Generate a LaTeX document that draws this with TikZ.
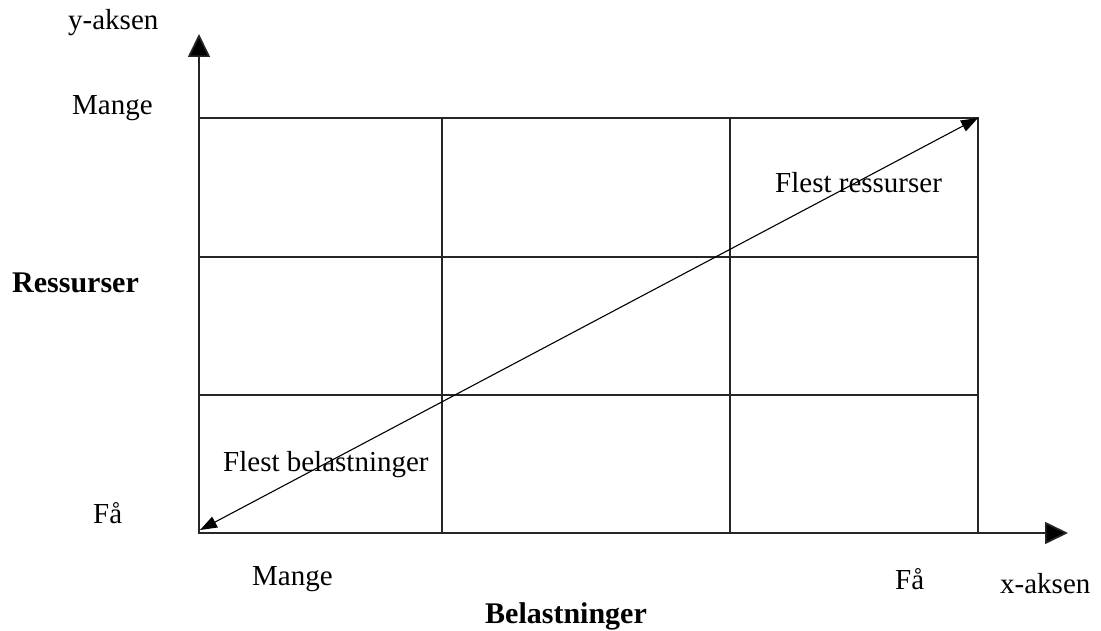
\documentclass[tikz,border=0pt]{standalone}
\usepackage{fontspec}
\setmainfont{Liberation Serif}
\usetikzlibrary{arrows.meta}
\begin{document}
\begin{tikzpicture}[x=1pt,y=-1pt,
  grid/.style={line width=1.7pt,draw=black!85},
  axis/.style={line width=1.7pt,draw=black!85,-{Triangle[length=23pt,width=22pt,fill=black]}},
  diag/.style={line width=1.1pt,{Triangle[length=17pt,width=12pt]}-{Triangle[length=17pt,width=12pt]}},
  lbl/.style={inner sep=0pt,anchor=base west,font=\fontsize{29}{32}\selectfont},
  blbl/.style={inner sep=0pt,anchor=base west,font=\fontsize{30}{33}\selectfont\bfseries}]
\useasboundingbox (0,0) rectangle (1101,631);
% grid corners
\coordinate (O) at (199,533);
\coordinate (TL) at (199,118);
\coordinate (TR) at (978,118);
\coordinate (BR) at (978,533);
\coordinate (Ytip) at (199,34);
\coordinate (Xtip) at (1068,533);
% grid
\draw[grid] (TL) rectangle (BR);
\draw[grid] (199,257) -- (978,257);
\draw[grid] (199,395) -- (978,395);
\draw[grid] (442,118) -- (442,533);
\draw[grid] (730,118) -- (730,533);
% axes
\draw[axis] (O) -- (Ytip);
\draw[axis] (O) -- (Xtip);
% diagonal
\coordinate (D1) at (200,530);
\coordinate (D2) at (978,118);
\draw[diag] (D1) -- (D2);
% labels
\node[lbl] (ya) at (68,30) {y-aksen};
\node[lbl] (ymange) at (72,115) {Mange};
\node[lbl] (yfa) at (93,523) {Få};
\node[blbl] (res) at (12,293) {Ressurser};
\node[lbl] (fr) at (775,193) {Flest ressurser};
\node[lbl] (fb) at (223,471) {Flest belastninger};
\node[lbl] (xmange) at (252,585) {Mange};
\node[lbl] (xfa) at (895,589) {Få};
\node[lbl] (xa) at (1000,593) {x-aksen};
\node[blbl] (bel) at (485,623) {Belastninger};
\end{tikzpicture}
\end{document}
